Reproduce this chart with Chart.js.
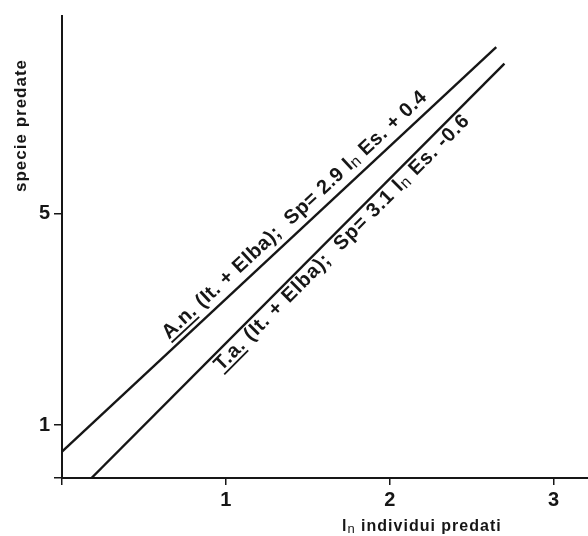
<!DOCTYPE html>
<html>
<head>
<meta charset="utf-8">
<script src="https://cdn.jsdelivr.net/npm/chart.js@4.4.0/dist/chart.umd.min.js"></script>
<style>
  html, body { margin: 0; padding: 0; background: #fff; }
  #wrap { width: 588px; height: 536px; }
</style>
</head>
<body>
<div id="wrap"><canvas id="chart"></canvas></div>
<script>
// Regression lines: specie predate vs ln individui predati
const anX = [0, 2.65];
const anY = [0.5, 8.14];
const taX = [0.18, 2.70];
const taY = [0, 7.83];

const xTicks = [0, 1, 2, 3];
const xTickLabels = ['', '1', '2', '3'];
const yTicks = [0, 1, 5];
const yTickLabels = ['', '1', '5'];

const INK = '#161616';
const FONT = '"Liberation Sans", Arial, sans-serif';

function pts(xs, ys) {
    return xs.map((v, i) => ({ x: v, y: ys[i] }));
}

// text pieces: u = underlined, sub = small lowered "n" of ln
const lineLabels = [
    { ds: 0, at: 0.69, off: -9, size: 20, spacing: '0.5px', segs: [
        { t: 'A.n.', u: true }, { t: ' (It. + Elba);  Sp= 2.9 l' }, { t: 'n', sub: true }, { t: ' Es. + 0.4' }
    ] },
    { ds: 1, at: 0.9, off: 17, size: 20, spacing: '0.9px', segs: [
        { t: 'T.a.', u: true }, { t: ' (It. + Elba);  Sp= 3.1 l' }, { t: 'n', sub: true }, { t: ' Es. -0.6' }
    ] }
];

function drawRich(ctx, segs, size, x, y) {
    segs.forEach(s => {
        const sz = s.sub ? Math.round(size * 0.8) : size;
        ctx.font = (s.sub ? '' : 'bold ') + sz + 'px ' + FONT;
        const w = ctx.measureText(s.t).width;
        ctx.fillText(s.t, x, y + (s.sub ? 2 : 0));
        if (s.u) ctx.fillRect(x, y + 3, w - 2, 1.8);
        x += w;
    });
}

const textPlugin = {
    id: 'textPlugin',
    afterDatasetsDraw(chart) {
        const { ctx, scales: { x, y } } = chart;
        ctx.save();
        ctx.fillStyle = INK;
        ctx.textAlign = 'left';
        ctx.textBaseline = 'alphabetic';

        lineLabels.forEach(l => {
            const d = chart.data.datasets[l.ds].data;
            const p0 = { x: x.getPixelForValue(d[0].x), y: y.getPixelForValue(d[0].y) };
            const p1 = { x: x.getPixelForValue(d[1].x), y: y.getPixelForValue(d[1].y) };
            const ang = Math.atan2(p1.y - p0.y, p1.x - p0.x);
            const t = (x.getPixelForValue(l.at) - p0.x) / (p1.x - p0.x);
            ctx.save();
            ctx.letterSpacing = l.spacing;
            ctx.translate(p0.x + t * (p1.x - p0.x), p0.y + t * (p1.y - p0.y));
            ctx.rotate(ang);
            drawRich(ctx, l.segs, l.size, 0, l.off);
            ctx.restore();
        });

        // axis titles
        ctx.letterSpacing = '1px';
        drawRich(ctx, [{ t: 'l' }, { t: 'n', sub: true }, { t: ' individui predati' }], 16, 342, 531);
        ctx.save();
        ctx.translate(26, 192);
        ctx.rotate(-Math.PI / 2);
        drawRich(ctx, [{ t: 'specie predate' }], 17, 0, 0);
        ctx.restore();
        ctx.restore();
    }
};

new Chart(document.getElementById('chart'), {
    type: 'scatter',
    data: {
        datasets: [{
            label: 'A.n.',
            data: pts(anX, anY),
            showLine: true,
            borderColor: INK,
            borderWidth: 2.4,
            pointRadius: 0
        }, {
            label: 'T.a.',
            data: pts(taX, taY),
            showLine: true,
            borderColor: INK,
            borderWidth: 2.4,
            pointRadius: 0
        }]
    },
    options: {
        responsive: true,
        maintainAspectRatio: false,
        animation: false,
        layout: { padding: { top: 12, left: 0, right: 0, bottom: 0 } },
        plugins: {
            legend: { display: false },
            tooltip: { enabled: false }
        },
        scales: {
            x: {
                type: 'linear',
                min: 0,
                max: 3.21,
                afterBuildTicks: axis => { axis.ticks = xTicks.map(v => ({ value: v })); },
                afterFit: axis => { axis.height = 58; },
                ticks: {
                    color: INK,
                    padding: 3,
                    maxRotation: 0,
                    font: { family: FONT, size: 20, weight: 'bold' },
                    callback: v => xTickLabels[xTicks.indexOf(v)]
                },
                grid: { drawOnChartArea: false, drawTicks: true, tickLength: 7, color: INK, lineWidth: 1.5 },
                border: { display: true, color: INK, width: 2 }
            },
            y: {
                type: 'linear',
                min: 0,
                max: 8.73,
                afterBuildTicks: axis => { axis.ticks = yTicks.map(v => ({ value: v })); },
                afterFit: axis => { axis.width = 62; },
                ticks: {
                    color: INK,
                    padding: 4,
                    font: { family: FONT, size: 20, weight: 'bold' },
                    callback: v => yTickLabels[yTicks.indexOf(v)]
                },
                grid: { drawOnChartArea: false, drawTicks: true, tickLength: 8, color: INK, lineWidth: 1.5 },
                border: { display: true, color: INK, width: 2 }
            }
        }
    },
    plugins: [textPlugin]
});
</script>
</body>
</html>
